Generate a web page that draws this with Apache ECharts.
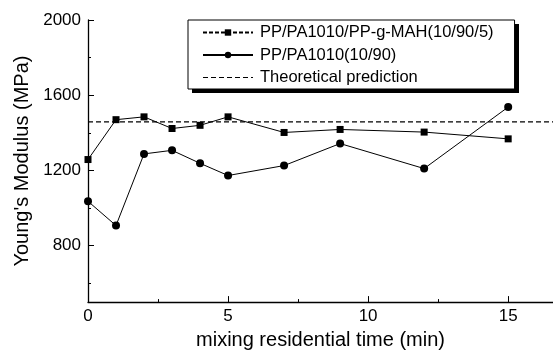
<!DOCTYPE html>
<html>
<head>
<meta charset="utf-8">
<script src="https://cdn.jsdelivr.net/npm/echarts@6/dist/echarts.min.js"></script>
<style>
  html, body { margin: 0; padding: 0; background: #fff; }
  #chart { width: 553px; height: 355px; }
</style>
</head>
<body>
<div id="chart"></div>
<script>
// mixing time (min)
const times = [0, 1, 2, 3, 4, 5, 7, 9, 12, 15]
// Young's modulus (MPa)
const compatibilized = [1258, 1470, 1485, 1423, 1440, 1485, 1402, 1418, 1404, 1368]
const uncompatibilized = [1036, 907, 1288, 1307, 1238, 1173, 1226, 1343, 1210, 1537]
const theoretical = 1458
const theoryRange = [0, 16.6]

const xMajorTicks = [0, 5, 10, 15]
const xMinorTicks = [2.5, 7.5, 12.5]
const yMajorTicks = [800, 1200, 1600, 2000]
const yMinorTicks = [600, 1000, 1400, 1800]

const seriesNames = [
  'PP/PA1010/PP-g-MAH(10/90/5)',
  'PP/PA1010(10/90)',
  'Theoretical prediction',
]

const chart = echarts.init(document.getElementById('chart'))
const font = 'Liberation Sans, Arial, sans-serif'

// short dashes for the legend sample of the dashed line
const dashIcon = 'path://M0,0h5v1.2h-5z M8,0h5v1.2h-5z M16,0h5v1.2h-5z M24,0h5v1.2h-5z M32,0h5v1.2h-5z M40,0h5v1.2h-5z M48,0h2v1.2h-2z'

const axisBase = {
  type: 'value',
  axisLine: { show: true, lineStyle: { color: '#000', width: 1.3 } },
  splitLine: { show: false },
}

chart.setOption({
  animation: false,
  textStyle: { fontFamily: font, color: '#000' },
  grid: { left: 88, right: 0, top: 20, bottom: 46 },
  graphic: [
    // drop shadow behind the legend box
    { type: 'rect', left: 192, top: 24, z: 0, silent: true, shape: { width: 327, height: 69 }, style: { fill: '#000' } },
  ],
  legend: {
    orient: 'vertical',
    left: 188,
    top: 20,
    z: 5,
    data: [
      { name: seriesNames[0], lineStyle: { type: [4, 2] } },
      { name: seriesNames[1] },
      { name: seriesNames[2], icon: dashIcon, itemStyle: { color: '#000', borderWidth: 0, opacity: 1 } },
    ],
    itemWidth: 50,
    itemHeight: 8,
    itemGap: 3.5,
    padding: [3, 21, 2, 14],
    borderColor: '#000',
    borderWidth: 1,
    backgroundColor: '#fff',
    textStyle: { fontFamily: font, fontSize: 16.5, lineHeight: 19, color: '#000', padding: [0, 0, 0, 2] },
  },
  xAxis: [
    {
      ...axisBase,
      min: 0,
      max: 16.6,
      name: 'mixing residential time (min)',
      nameLocation: 'middle',
      nameGap: 27,
      nameTextStyle: { fontFamily: font, fontSize: 20, color: '#000' },
      axisTick: { show: true, inside: true, length: 6, customValues: xMajorTicks, lineStyle: { color: '#000' } },
      axisLabel: { fontFamily: font, fontSize: 17, color: '#000', margin: 6, customValues: xMajorTicks },
    },
    {
      ...axisBase,
      position: 'bottom',
      min: 0,
      max: 16.6,
      axisLine: { show: false },
      axisTick: { show: true, inside: true, length: 3, customValues: xMinorTicks, lineStyle: { color: '#000' } },
      axisLabel: { show: false },
    },
  ],
  yAxis: [
    {
      ...axisBase,
      min: 500,
      max: 2000,
      name: "Young's Modulus (MPa)",
      nameLocation: 'middle',
      nameGap: 53,
      nameTextStyle: { fontFamily: font, fontSize: 20, color: '#000' },
      axisTick: { show: true, inside: true, length: 6, customValues: yMajorTicks, lineStyle: { color: '#000' } },
      axisLabel: {
        fontFamily: font, fontSize: 17, color: '#000', margin: 7,
        customValues: yMajorTicks,
        formatter: v => String(v),
      },
    },
    {
      ...axisBase,
      position: 'left',
      min: 500,
      max: 2000,
      axisLine: { show: false },
      axisTick: { show: true, inside: true, length: 3, customValues: yMinorTicks, lineStyle: { color: '#000' } },
      axisLabel: { show: false },
    },
  ],
  series: [
    {
      name: seriesNames[0],
      type: 'line',
      data: times.map((t, i) => [t, compatibilized[i]]),
      symbol: 'rect',
      symbolSize: 7,
      lineStyle: { color: '#000', width: 1 },
      itemStyle: { color: '#000' },
    },
    {
      name: seriesNames[1],
      type: 'line',
      data: times.map((t, i) => [t, uncompatibilized[i]]),
      symbol: 'circle',
      symbolSize: 8,
      lineStyle: { color: '#000', width: 1 },
      itemStyle: { color: '#000' },
    },
    {
      name: seriesNames[2],
      type: 'line',
      data: theoryRange.map(t => [t, theoretical]),
      symbol: 'none',
      lineStyle: { color: '#000', width: 1.2, type: [5, 3] },
      itemStyle: { color: '#000' },
    },
  ],
})
</script>
</body>
</html>
